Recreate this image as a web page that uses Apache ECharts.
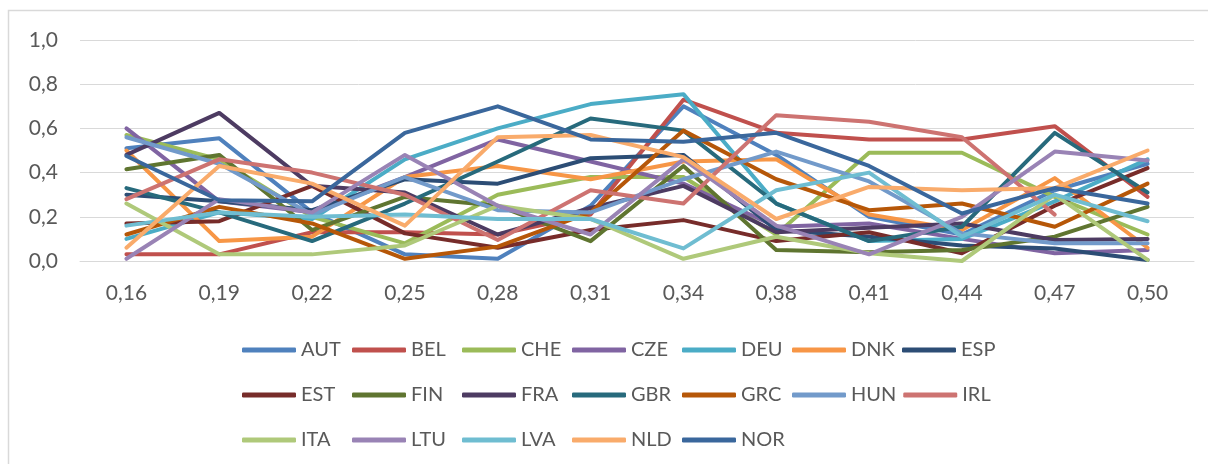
<!DOCTYPE html>
<html>
<head>
<meta charset="utf-8">
<script src="https://cdn.jsdelivr.net/npm/echarts@6/dist/echarts.min.js"></script>
<style>
  html, body { margin: 0; padding: 0; background: #fff; }
  #chart { width: 1208px; height: 464px; }
</style>
</head>
<body>
<div id="chart"></div>
<script>
const categories = ['0,16', '0,19', '0,22', '0,25', '0,28', '0,31', '0,34', '0,38', '0,41', '0,44', '0,47', '0,50'];

const names = ['AUT', 'BEL', 'CHE', 'CZE', 'DEU', 'DNK', 'ESP', 'EST', 'FIN', 'FRA',
    'GBR', 'GRC', 'HUN', 'IRL', 'ITA', 'LTU', 'LVA', 'NLD', 'NOR'];

const colors = ['#4F81BD', '#C0504D', '#9BBB59', '#8064A2', '#4BACC6', '#F79646', '#2C4D75',
    '#772C2A', '#5F7530', '#4D3B62', '#276A7C', '#B65708', '#729ACA', '#CD7371', '#AFC97A',
    '#9983B5', '#6FBDD1', '#F9AB6B', '#3A679C'];

// values per country
const AUT = [0.51, 0.555, 0.22, 0.03, 0.01, 0.25, 0.70, 0.48, 0.20, 0.12, 0.32, 0.44];
const BEL = [0.03, 0.03, 0.13, 0.13, 0.12, 0.21, 0.73, 0.58, 0.55, 0.55, 0.61, 0.29];
const CHE = [0.57, 0.46, 0.20, 0.08, 0.30, 0.38, 0.38, 0.12, 0.49, 0.49, 0.29, 0.12];
const CZE = [0.60, 0.27, 0.22, 0.38, 0.55, 0.45, 0.35, 0.155, 0.17, 0.10, 0.035, 0.05];
const DEU = [0.10, 0.22, 0.19, 0.46, 0.60, 0.71, 0.755, 0.26, 0.09, 0.10, 0.27, 0.46];
const DNK = [0.50, 0.09, 0.11, 0.38, 0.43, 0.37, 0.45, 0.46, 0.21, 0.14, 0.375, 0.06];
const ESP = [0.30, 0.27, 0.23, 0.37, 0.35, 0.465, 0.48, 0.14, 0.11, 0.07, 0.057, 0.005];
const EST = [0.17, 0.18, 0.34, 0.125, 0.06, 0.14, 0.185, 0.09, 0.13, 0.035, 0.25, 0.42];
const FIN = [0.415, 0.48, 0.14, 0.29, 0.25, 0.09, 0.43, 0.05, 0.04, 0.05, 0.11, 0.245];
const FRA = [0.48, 0.67, 0.34, 0.31, 0.12, 0.24, 0.34, 0.13, 0.15, 0.17, 0.095, 0.10];
const GBR = [0.33, 0.22, 0.09, 0.26, 0.45, 0.645, 0.59, 0.26, 0.09, 0.155, 0.58, 0.31];
const GRC = [0.12, 0.245, 0.17, 0.01, 0.065, 0.22, 0.59, 0.37, 0.23, 0.26, 0.155, 0.35];
const HUN = [0.56, 0.44, 0.21, 0.38, 0.23, 0.22, 0.37, 0.495, 0.36, 0.125, 0.08, 0.08];
const IRL = [0.28, 0.46, 0.40, 0.30, 0.095, 0.32, 0.26, 0.66, 0.63, 0.56, 0.21, null];
const ITA = [0.26, 0.03, 0.03, 0.07, 0.25, 0.19, 0.01, 0.11, 0.035, 0.0, 0.30, 0.005];
const LTU = [0.01, 0.28, 0.22, 0.48, 0.25, 0.12, 0.46, 0.16, 0.03, 0.20, 0.495, 0.455];
const LVA = [0.16, 0.22, 0.20, 0.21, 0.19, 0.19, 0.057, 0.32, 0.40, 0.11, 0.30, 0.18];
const NLD = [0.06, 0.43, 0.35, 0.16, 0.56, 0.57, 0.47, 0.19, 0.335, 0.32, 0.33, 0.50];
const NOR = [0.475, 0.275, 0.27, 0.58, 0.70, 0.55, 0.54, 0.58, 0.43, 0.215, 0.33, 0.26];

const values = [AUT, BEL, CHE, CZE, DEU, DNK, ESP, EST, FIN, FRA, GBR, GRC, HUN, IRL, ITA, LTU, LVA, NLD, NOR];

const textColor = '#595959';
const font = 'Lato, "Open Sans", sans-serif';

const chart = echarts.init(document.getElementById('chart'), null, {renderer: 'canvas'});

const option = {
    animation: false,
    color: colors,
    graphic: [
        {
            // chart area border (only top and left edges are inside the picture)
            type: 'rect',
            shape: {x: 8.5, y: 10.5, width: 1400, height: 600},
            style: {fill: 'none', stroke: '#d9d9d9', lineWidth: 1.5},
            silent: true
        }
    ],
    grid: {left: 80, right: 14, top: 40, bottom: 203},
    xAxis: {
        type: 'category',
        data: categories,
        boundaryGap: true,
        axisLine: {show: true, lineStyle: {color: '#d9d9d9', width: 1}},
        axisTick: {show: false},
        axisLabel: {color: textColor, fontFamily: font, fontSize: 21, margin: 20, lineHeight: 24}
    },
    yAxis: {
        type: 'value',
        min: 0,
        max: 1,
        interval: 0.2,
        axisLine: {show: false},
        axisTick: {show: false},
        splitLine: {lineStyle: {color: '#d9d9d9', width: 1}},
        axisLabel: {
            color: textColor, fontFamily: font, fontSize: 21, margin: 22,
            formatter: (v) => v.toFixed(1).replace('.', ',')
        }
    },
    legend: {
        data: names,
        left: 237,
        top: 326,
        width: 800,
        itemWidth: 54,
        itemHeight: 5,
        itemGap: 7,
        icon: 'roundRect',
        textStyle: {
            color: textColor, fontFamily: font, fontSize: 20,
            width: 44, lineHeight: 38
        }
    },
    series: names.map((n, i) => ({
        name: n,
        type: 'line',
        data: values[i],
        symbol: 'none',
        connectNulls: false,
        lineStyle: {width: 4, color: colors[i], join: 'round', cap: 'round'},
        itemStyle: {color: colors[i]}
    }))
};

chart.setOption(option);
</script>
</body>
</html>
